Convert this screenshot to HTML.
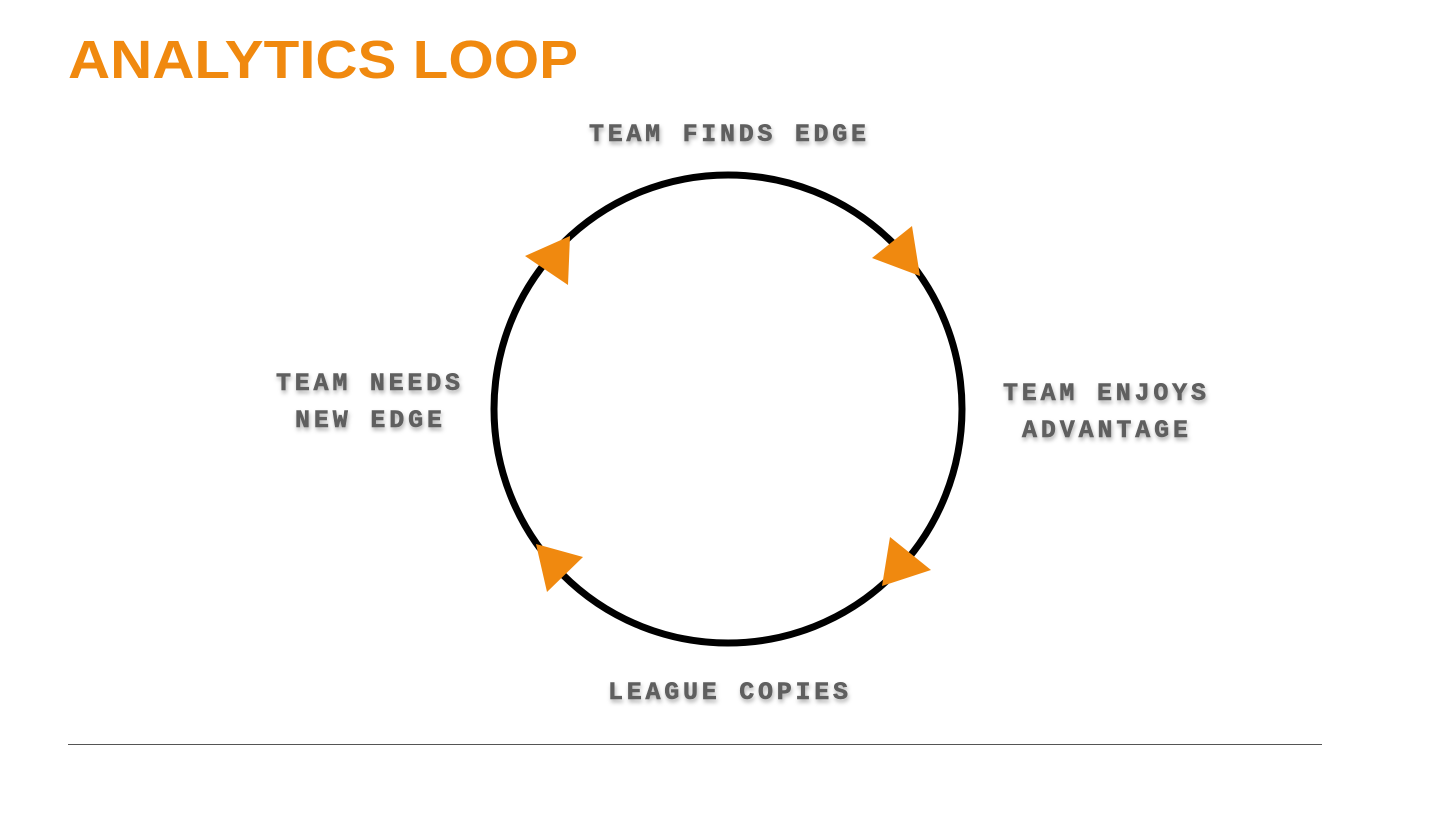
<!DOCTYPE html>
<html><head><style>body{margin:0;background:#fff}</style></head><body>
<svg width="1456" height="819" xmlns="http://www.w3.org/2000/svg">
<defs><filter id="s" x="-10%" y="-30%" width="120%" height="160%"><feDropShadow dx="1" dy="3" stdDeviation="2" flood-color="#000" flood-opacity="0.3"/></filter></defs>
<text x="68" y="78" font-family="Liberation Sans, sans-serif" font-weight="bold" font-size="54" fill="#F0890F" textLength="510" lengthAdjust="spacingAndGlyphs">ANALYTICS LOOP</text>
<circle cx="728" cy="409" r="234" fill="none" stroke="#000" stroke-width="7"/>
<g fill="#F0890F">
<polygon points="912,226 872,258 920,276"/>
<polygon points="890,537 931,570 882,586"/>
<polygon points="536,544 583,557 547,592"/>
<polygon points="525,256 570,236 568,285"/>
</g>
<g font-family="Liberation Mono, monospace" font-weight="bold" font-size="25" fill="#5f5f5f" stroke="#5f5f5f" stroke-width="0.6" filter="url(#s)" lengthAdjust="spacingAndGlyphs">
<text x="589" y="141" textLength="277">TEAM FINDS EDGE</text>
<text x="1003" y="400" textLength="203">TEAM ENJOYS</text>
<text x="1022" y="437" textLength="166">ADVANTAGE</text>
<text x="608" y="699" textLength="240">LEAGUE COPIES</text>
<text x="276" y="390" textLength="184">TEAM NEEDS</text>
<text x="295" y="427" textLength="147">NEW EDGE</text>
</g>
<line x1="68" y1="744.5" x2="1322" y2="744.5" stroke="#555" stroke-width="1"/>
</svg>
</body></html>
